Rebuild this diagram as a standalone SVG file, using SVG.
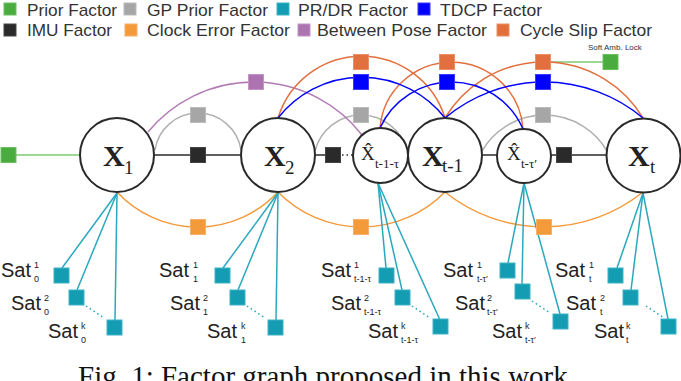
<svg xmlns="http://www.w3.org/2000/svg" width="681" height="381" viewBox="0 0 681 381">
<style>
.lg{font-family:"Liberation Sans",Arial,sans-serif;font-size:17px;fill:#333}
.sat{font-family:"Liberation Sans",Arial,sans-serif;font-size:20px;fill:#222}
.ss{font-family:"Liberation Sans",Arial,sans-serif;font-size:9px;fill:#222}
.nx{font-family:"Liberation Serif","Times New Roman",serif;font-size:30px;font-weight:bold;fill:#222}
.nsub{font-family:"Liberation Serif","Times New Roman",serif;font-size:19px;fill:#222}
.hx{font-family:"Liberation Serif","Times New Roman",serif;font-size:19px;fill:#222}
.hsub{font-family:"Liberation Serif","Times New Roman",serif;font-size:13px;fill:#222}
.node{fill:#fff;stroke:#2a2a2a;stroke-width:2}
.c{fill:none;stroke-width:1.5}
.green{fill:#4aab3f;stroke:#6cc060}
.gray{fill:#a6a6a6;stroke:#bbb}
.teal{fill:#139cb2;stroke:#3fb4c6}
.blue{fill:#0000ff;stroke:#3a3aff}
.imu{fill:#2a2a2a;stroke:#444}
.orange{fill:#f39a3a;stroke:#f6b06a}
.purple{fill:#ad73b0;stroke:#c295c4}
.cs{fill:#e2703f;stroke:#ea9068}
.lgreen{stroke:#7cc872}
.lgray{stroke:#b0b0b0}
.lteal{stroke:#2aa8bd}
.lblue{stroke:#0000ff}
.limu{stroke:#2a2a2a}
.lorange{stroke:#f39a3a}
.lpurple{stroke:#b37bb6}
.lcs{stroke:#e2703f}
.dot{stroke-dasharray:1.5 3}
</style>

<!-- Legend -->
<g id="legend">
  <rect x="4" y="3" width="12" height="12" class="green"/>
  <text x="27" y="16" class="lg" textLength="90" lengthAdjust="spacingAndGlyphs">Prior Factor</text>
  <rect x="124" y="3" width="12" height="12" class="gray"/>
  <text x="147" y="16" class="lg" textLength="121" lengthAdjust="spacingAndGlyphs">GP Prior Factor</text>
  <rect x="277" y="3" width="12" height="12" class="teal"/>
  <text x="298" y="16" class="lg" textLength="110" lengthAdjust="spacingAndGlyphs">PR/DR Factor</text>
  <rect x="418" y="3" width="12" height="12" class="blue"/>
  <text x="440" y="16" class="lg" textLength="102" lengthAdjust="spacingAndGlyphs">TDCP Factor</text>
  <rect x="4" y="24" width="12" height="12" class="imu"/>
  <text x="27" y="36" class="lg" textLength="85" lengthAdjust="spacingAndGlyphs">IMU Factor</text>
  <rect x="125" y="24" width="12" height="12" class="orange"/>
  <text x="147" y="36" class="lg" textLength="143" lengthAdjust="spacingAndGlyphs">Clock Error Factor</text>
  <rect x="298" y="24" width="12" height="12" class="purple"/>
  <text x="317" y="36" class="lg" textLength="170" lengthAdjust="spacingAndGlyphs">Between Pose Factor</text>
  <rect x="497" y="24" width="12" height="12" class="cs"/>
  <text x="520" y="36" class="lg" textLength="132" lengthAdjust="spacingAndGlyphs">Cycle Slip Factor</text>
</g>

<!-- Connectors -->
<g id="connectors">
  <line x1="16" y1="155" x2="80" y2="155" class="c lgreen"/>
  <line x1="551" y1="62" x2="603" y2="62" class="c lgreen"/>
  <line x1="154" y1="155" x2="241" y2="155" class="c limu"/>
  <line x1="315" y1="155" x2="341" y2="155" class="c limu"/>
  <line x1="342" y1="155" x2="353" y2="155" class="c limu dot"/>
  <line x1="405" y1="155" x2="410" y2="155" class="c limu"/>
  <line x1="482" y1="155" x2="498" y2="155" class="c limu"/>
  <line x1="549" y1="155" x2="607" y2="155" class="c limu"/>
  <path d="M155 150 A43.5 43.5 0 0 1 241 150" class="c lgray"/>
  <path d="M315 151 A47.4 47.4 0 0 1 407 151" class="c lgray"/>
  <path d="M482 151 A72.3 72.3 0 0 1 607 151" class="c lgray"/>
  <path d="M148 132 A137 137 0 0 1 362 135" class="c lpurple"/>
  <path d="M278 118 A87.3 87.3 0 0 1 445 118" class="c lcs"/>
  <path d="M380 128 A71.7 71.7 0 0 1 523 129" class="c lcs"/>
  <path d="M445 118 A115.5 115.5 0 0 1 643 118" class="c lcs"/>
  <path d="M278 118 A105.8 105.8 0 0 1 445 118" class="c lblue"/>
  <path d="M380 128 A78.2 78.2 0 0 1 523 129" class="c lblue"/>
  <path d="M445 118 A154 154 0 0 1 643 118" class="c lblue"/>
  <path d="M117 192 A110 110 0 0 0 278 192" class="c lorange"/>
  <path d="M278 192 A117 117 0 0 0 445 192" class="c lorange"/>
  <path d="M445 192 A158 158 0 0 0 643 192" class="c lorange"/>
  <g class="c lteal">
    <line x1="117" y1="193" x2="62" y2="268"/>
    <line x1="117" y1="193" x2="77" y2="290"/>
    <line x1="117" y1="193" x2="115" y2="320"/>
    <line x1="278" y1="193" x2="223" y2="268"/>
    <line x1="278" y1="193" x2="238" y2="290"/>
    <line x1="278" y1="193" x2="276" y2="320"/>
    <line x1="378" y1="183" x2="386" y2="268"/>
    <line x1="378" y1="183" x2="402" y2="290"/>
    <line x1="378" y1="183" x2="440" y2="320"/>
    <line x1="524" y1="183" x2="508" y2="263"/>
    <line x1="524" y1="183" x2="522" y2="284"/>
    <line x1="524" y1="183" x2="560" y2="314"/>
    <line x1="643" y1="193" x2="617" y2="268"/>
    <line x1="643" y1="193" x2="631" y2="290"/>
    <line x1="643" y1="193" x2="668" y2="319"/>
  </g>
  <g class="c lteal dot">
    <line x1="86" y1="306" x2="104" y2="318"/>
    <line x1="247" y1="306" x2="265" y2="318"/>
    <line x1="412" y1="306" x2="430" y2="318"/>
    <line x1="532" y1="301" x2="550" y2="313"/>
    <line x1="646" y1="306" x2="664" y2="318"/>
  </g>
</g>

<!-- Factors -->
<g id="factors">
  <rect x="1" y="147.5" width="15" height="15" class="green"/>
  <rect x="603" y="54.5" width="15" height="15" class="green"/>
  <rect x="190.5" y="147.5" width="15" height="15" class="imu"/>
  <rect x="325.5" y="147.5" width="15" height="15" class="imu"/>
  <rect x="556.5" y="147.5" width="15" height="15" class="imu"/>
  <rect x="190.5" y="107.5" width="15" height="15" class="gray"/>
  <rect x="353.5" y="107.5" width="15" height="15" class="gray"/>
  <rect x="535.5" y="107.5" width="15" height="15" class="gray"/>
  <rect x="248.5" y="74.5" width="15" height="15" class="purple"/>
  <rect x="353.5" y="54.5" width="15" height="15" class="cs"/>
  <rect x="439.5" y="54.5" width="15" height="15" class="cs"/>
  <rect x="535.5" y="54.5" width="15" height="15" class="cs"/>
  <rect x="353.5" y="74.5" width="15" height="15" class="blue"/>
  <rect x="439.5" y="74.5" width="15" height="15" class="blue"/>
  <rect x="535.5" y="74.5" width="15" height="15" class="blue"/>
  <rect x="190.5" y="219.5" width="15" height="15" class="orange"/>
  <rect x="353.5" y="219.5" width="15" height="15" class="orange"/>
  <rect x="536.5" y="219.5" width="15" height="15" class="orange"/>
  <rect x="54" y="268" width="15" height="15" class="teal"/>
  <rect x="69" y="290" width="15" height="15" class="teal"/>
  <rect x="107" y="320" width="15" height="15" class="teal"/>
  <rect x="215" y="268" width="15" height="15" class="teal"/>
  <rect x="230" y="290" width="15" height="15" class="teal"/>
  <rect x="268" y="320" width="15" height="15" class="teal"/>
  <rect x="379" y="268" width="15" height="15" class="teal"/>
  <rect x="395" y="290" width="15" height="15" class="teal"/>
  <rect x="433" y="319" width="15" height="15" class="teal"/>
  <rect x="500" y="263" width="15" height="15" class="teal"/>
  <rect x="515" y="284" width="15" height="15" class="teal"/>
  <rect x="553" y="314" width="15" height="15" class="teal"/>
  <rect x="608" y="268" width="15" height="15" class="teal"/>
  <rect x="623" y="290" width="15" height="15" class="teal"/>
  <rect x="661" y="319" width="15" height="15" class="teal"/>
  <text x="588" y="50" font-family="Liberation Sans, Arial, sans-serif" font-size="8" fill="#333">Soft Amb. Lock</text>
</g>

<!-- Nodes -->
<g id="x1">
  <circle cx="117" cy="155" r="37" class="node"/>
  <text x="103" y="166" class="nx">X</text><text x="124" y="174" class="nsub">1</text>
</g>
<g id="x2">
  <circle cx="278" cy="155" r="37" class="node"/>
  <text x="264" y="166" class="nx">X</text><text x="285" y="174" class="nsub">2</text>
</g>
<g id="xhat_t1tau">
  <circle cx="380.5" cy="155.5" r="27.5" class="node"/>
  <text x="361" y="160" class="hx">X&#770;</text><text x="375" y="168" class="hsub">t-1-τ</text>
</g>
<g id="xt1">
  <circle cx="445" cy="155" r="37" class="node"/>
  <text x="422" y="166" class="nx">X</text><text x="442" y="172" class="nsub">t-1</text>
</g>
<g id="xhat_ttau">
  <circle cx="524" cy="156" r="27" class="node"/>
  <text x="507" y="160" class="hx">X&#770;</text><text x="521" y="168" class="hsub">t-τ′</text>
</g>
<g id="xt">
  <circle cx="643.5" cy="155.5" r="37" class="node"/>
  <text x="628" y="166" class="nx">X</text><text x="650" y="173" class="nsub">t</text>
</g>

<!-- Satellite labels -->
<g id="sat-labels">
  <text x="1" y="277" class="sat">Sat</text><text x="34" y="268" class="ss">1</text><text x="34" y="282" class="ss">0</text>
  <text x="11" y="310" class="sat">Sat</text><text x="44" y="301" class="ss">2</text><text x="44" y="315" class="ss">0</text>
  <text x="48" y="338" class="sat">Sat</text><text x="81" y="329" class="ss">k</text><text x="81" y="343" class="ss">0</text>

  <text x="159" y="277" class="sat">Sat</text><text x="193" y="268" class="ss">1</text><text x="193" y="282" class="ss">1</text>
  <text x="170" y="310" class="sat">Sat</text><text x="203" y="301" class="ss">2</text><text x="203" y="315" class="ss">1</text>
  <text x="207" y="338" class="sat">Sat</text><text x="241" y="329" class="ss">k</text><text x="241" y="343" class="ss">1</text>

  <text x="321" y="277" class="sat">Sat</text><text x="354" y="268" class="ss">1</text><text x="354" y="282" class="ss">t-1-τ</text>
  <text x="331" y="310" class="sat">Sat</text><text x="364" y="301" class="ss">2</text><text x="364" y="315" class="ss">t-1-τ</text>
  <text x="368" y="338" class="sat">Sat</text><text x="401" y="329" class="ss">k</text><text x="401" y="343" class="ss">t-1-τ</text>

  <text x="443" y="277" class="sat">Sat</text><text x="477" y="268" class="ss">1</text><text x="477" y="282" class="ss">t-τ′</text>
  <text x="455" y="310" class="sat">Sat</text><text x="487" y="301" class="ss">2</text><text x="487" y="315" class="ss">t-τ′</text>
  <text x="492" y="338" class="sat">Sat</text><text x="525" y="329" class="ss">k</text><text x="525" y="343" class="ss">t-τ′</text>

  <text x="555" y="277" class="sat">Sat</text><text x="589" y="268" class="ss">1</text><text x="589" y="282" class="ss">t</text>
  <text x="566" y="310" class="sat">Sat</text><text x="600" y="301" class="ss">2</text><text x="600" y="315" class="ss">t</text>
  <text x="594" y="338" class="sat">Sat</text><text x="626" y="329" class="ss">k</text><text x="626" y="343" class="ss">t</text>
</g>

<text x="78" y="386" font-family="Liberation Serif, Times New Roman, serif" font-size="29" fill="#111">Fig. 1: Factor graph proposed in this work.</text>
</svg>
